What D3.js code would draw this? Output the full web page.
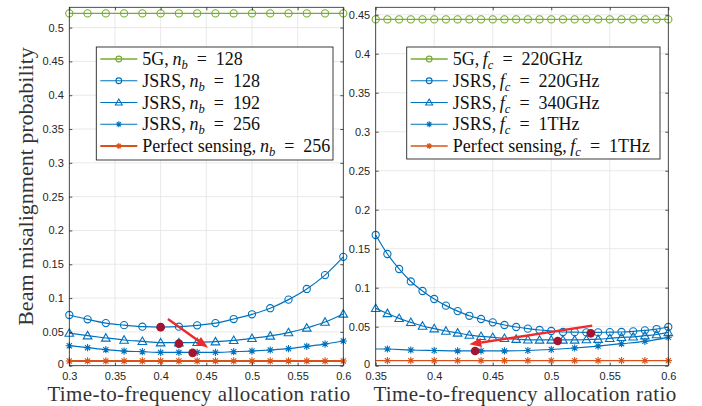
<!DOCTYPE html>
<html>
<head>
<meta charset="utf-8">
<script src="https://cdn.jsdelivr.net/npm/d3@7"></script>
<style>
  body { margin: 0; background: #fff; }
  text { white-space: pre; }
</style>
</head>
<body>
<div id="chart"></div>
<script>
// ---- left panel data (n_b sweep) ----
const leftX = [0.30, 0.32, 0.34, 0.36, 0.38, 0.40, 0.42, 0.44, 0.46, 0.48, 0.50, 0.52, 0.54, 0.56, 0.58, 0.60];
const left5G = [0.521, 0.521, 0.521, 0.521, 0.521, 0.521, 0.521, 0.521, 0.521, 0.521, 0.521, 0.521, 0.521, 0.521, 0.521, 0.521];
const leftJSRS128 = [0.075, 0.0686, 0.063, 0.060, 0.0577, 0.057, 0.0577, 0.0597, 0.063, 0.069, 0.076, 0.085, 0.0977, 0.1135, 0.134, 0.161];
const leftJSRS192 = [0.0483, 0.0444, 0.041, 0.038, 0.036, 0.034, 0.034, 0.0345, 0.0355, 0.0375, 0.0405, 0.044, 0.049, 0.0558, 0.0646, 0.0765];
const leftJSRS256 = [0.0296, 0.0267, 0.0237, 0.0217, 0.0207, 0.0197, 0.0197, 0.0197, 0.0197, 0.0207, 0.0217, 0.0232, 0.0252, 0.0286, 0.032, 0.0365];
const leftPerfect = [0.007, 0.007, 0.007, 0.007, 0.007, 0.007, 0.007, 0.007, 0.007, 0.007, 0.007, 0.007, 0.007, 0.007, 0.007, 0.007];
const leftOptX = [0.40, 0.42, 0.435];
const leftOptY = [0.057, 0.0326, 0.019];
const leftArrowX = [0.408, 0.452];
const leftArrowY = [0.069, 0.0267];
const leftXTicks = [0.3, 0.35, 0.4, 0.45, 0.5, 0.55, 0.6];
const leftYTicks = [0, 0.05, 0.1, 0.15, 0.2, 0.25, 0.3, 0.35, 0.4, 0.45, 0.5];

// ---- right panel data (f_c sweep) ----
const rightX = [0.35, 0.36, 0.37, 0.38, 0.39, 0.40, 0.41, 0.42, 0.43, 0.44, 0.45, 0.46, 0.47,
                0.48, 0.49, 0.50, 0.51, 0.52, 0.53, 0.54, 0.55, 0.56, 0.57, 0.58, 0.59, 0.60];
const right5G = [0.444, 0.444, 0.444, 0.444, 0.444, 0.444, 0.444, 0.444, 0.444, 0.444, 0.444, 0.444, 0.444,
                 0.444, 0.444, 0.444, 0.444, 0.444, 0.444, 0.444, 0.444, 0.444, 0.444, 0.444, 0.444, 0.444];
const rightJSRS220 = [0.1676, 0.1432, 0.124, 0.108, 0.0958, 0.0855, 0.077, 0.070, 0.064, 0.0599, 0.0556, 0.0522, 0.0496,
                      0.0475, 0.0458, 0.0445, 0.0432, 0.043, 0.0427, 0.0427, 0.043, 0.0432, 0.044, 0.0453, 0.047, 0.0496];
const rightJSRS340 = [0.0735, 0.067, 0.0607, 0.0556, 0.0509, 0.0475, 0.0445, 0.042, 0.0393, 0.0376, 0.0364, 0.0351, 0.034,
                      0.0332, 0.033, 0.033, 0.033, 0.033, 0.0335, 0.034, 0.0351, 0.0364, 0.037, 0.0385, 0.040, 0.0427];
const rightStarX = [0.35, 0.36, 0.38, 0.40, 0.42, 0.44, 0.46, 0.48, 0.50, 0.52, 0.54, 0.56, 0.58, 0.60];
const rightJSRS1T = [0.0214, 0.0214, 0.0201, 0.0195, 0.019, 0.019, 0.019, 0.0195, 0.0208, 0.0227, 0.0252, 0.0282, 0.0312, 0.0364];
const rightPerfect = [0.0065, 0.0065, 0.0065, 0.0065, 0.0065, 0.0065, 0.0065, 0.0065, 0.0065, 0.0065, 0.0065, 0.0065, 0.0065, 0.0065];
const rightOptX = [0.4349, 0.5055, 0.5338];
const rightOptY = [0.0188, 0.0317, 0.0415];
const rightArrowX = [0.535, 0.43];
const rightArrowY = [0.0513, 0.0274];
const rightXTicks = [0.35, 0.4, 0.45, 0.5, 0.55, 0.6];
const rightYTicks = [0, 0.05, 0.1, 0.15, 0.2, 0.25, 0.3, 0.35, 0.4, 0.45];

const GREEN = "#77AC30", BLUE = "#0072BD", ORANGE = "#D95319", DOT = "#A2142F", ARROW = "#EE2B2B";
const AXIS = "#262626";
const SERIF = "'Liberation Serif', 'Times New Roman', serif";
const SANS = "'Liberation Sans', Arial, sans-serif";
const EQ = "\u2002=\u2002";
const SEP = ",\u2009";

const svg = d3.select("#chart").append("svg")
  .attr("width", 702).attr("height", 406);

const fmt = d => String(+d.toFixed(2));

function marker(g, type, cx, cy, color, k = 1) {
  if (type === "o") {
    g.append("circle").attr("cx", cx).attr("cy", cy).attr("r", 3.6 * k)
      .attr("fill", "none").attr("stroke", color).attr("stroke-width", 1.1);
  } else if (type === "^") {
    g.append("path").attr("transform", `translate(${cx},${cy}) scale(${k})`)
      .attr("d", "M0,-4.3L4.3,3.2L-4.3,3.2Z")
      .attr("fill", "none").attr("stroke", color).attr("stroke-width", 1.1 / k);
  } else if (type === "*") {
    g.append("path").attr("transform", `translate(${cx},${cy}) scale(${k})`)
      .attr("d", "M-3.6,0H3.6M0,-3.6V3.6M-2.6,-2.6L2.6,2.6M-2.6,2.6L2.6,-2.6")
      .attr("fill", "none").attr("stroke", color).attr("stroke-width", 1.1 / k);
  }
}

function richText(g, x, y, parts, size) {
  const t = g.append("text").attr("x", x).attr("y", y)
    .attr("font-family", SERIF).attr("font-size", size).attr("fill", "#111");
  let shifted = false;
  parts.forEach(p => {
    const s = t.append("tspan").text(p.t);
    if (p.i) s.attr("font-style", "italic");
    if (p.sub) {
      s.attr("font-size", size * 0.7).attr("dy", 4);
      shifted = true;
    } else if (shifted) {
      s.attr("dy", -4);
      shifted = false;
    }
  });
  return t;
}

function drawPanel(cfg) {
  const x = d3.scaleLinear().domain(cfg.xDomain).range([cfg.left, cfg.right]);
  const y = d3.scaleLinear().domain(cfg.yDomain).range([cfg.bottom, cfg.top]);
  const g = svg.append("g");

  // background + grid
  g.append("rect").attr("x", cfg.left).attr("y", cfg.top)
    .attr("width", cfg.right - cfg.left).attr("height", cfg.bottom - cfg.top).attr("fill", "#fff");
  g.append("g").selectAll("line").data(cfg.xTicks).join("line")
    .attr("x1", d => x(d)).attr("x2", d => x(d)).attr("y1", cfg.top).attr("y2", cfg.bottom)
    .attr("stroke", "#e3e3e3").attr("stroke-width", 0.8);
  g.append("g").selectAll("line").data(cfg.yTicks).join("line")
    .attr("x1", cfg.left).attr("x2", cfg.right).attr("y1", d => y(d)).attr("y2", d => y(d))
    .attr("stroke", "#e3e3e3").attr("stroke-width", 0.8);

  // series
  const line = d3.line().x(d => x(d[0])).y(d => y(d[1])).curve(d3.curveMonotoneX);
  cfg.series.forEach(s => {
    const pts = s.xs.map((v, i) => [v, s.ys[i]]);
    g.append("path").datum(pts).attr("d", line)
      .attr("fill", "none").attr("stroke", s.color).attr("stroke-width", s.width);
    const mg = g.append("g");
    pts.forEach((p, i) => {
      if (s.skipFirst && i === 0) return;
      marker(mg, s.marker, x(p[0]), y(p[1]), s.color);
    });
  });

  // optimal points
  cfg.optX.forEach((v, i) => {
    g.append("circle").attr("cx", x(v)).attr("cy", y(cfg.optY[i])).attr("r", 4.3).attr("fill", DOT);
  });

  // arrow
  const x1 = x(cfg.arrowX[0]), y1 = y(cfg.arrowY[0]);
  const x2 = x(cfg.arrowX[1]), y2 = y(cfg.arrowY[1]);
  const ang = Math.atan2(y2 - y1, x2 - x1);
  const hl = 12, hw = 4.5;
  const bx = x2 - hl * Math.cos(ang), by = y2 - hl * Math.sin(ang);
  g.append("line").attr("x1", x1).attr("y1", y1).attr("x2", bx).attr("y2", by)
    .attr("stroke", ARROW).attr("stroke-width", 2.4);
  g.append("path")
    .attr("d", `M${x2},${y2}L${bx + hw * Math.sin(ang)},${by - hw * Math.cos(ang)}` +
               `L${bx - hw * Math.sin(ang)},${by + hw * Math.cos(ang)}Z`)
    .attr("fill", ARROW);

  // axes: labels and inward ticks on all four sides
  const tl = 3;
  g.append("g").attr("transform", `translate(0,${cfg.bottom})`)
    .call(d3.axisBottom(x).tickValues(cfg.xTicks).tickFormat(fmt).tickSizeInner(-tl).tickSizeOuter(0).tickPadding(6.5));
  g.append("g").attr("transform", `translate(0,${cfg.top})`)
    .call(d3.axisTop(x).tickValues(cfg.xTicks).tickFormat("").tickSizeInner(-tl).tickSizeOuter(0));
  const ay = g.append("g").attr("transform", `translate(${cfg.left},0)`)
    .call(d3.axisLeft(y).tickValues(cfg.yTicks).tickFormat(fmt).tickSizeInner(-tl).tickSizeOuter(0).tickPadding(5.5));
  g.append("g").attr("transform", `translate(${cfg.right},0)`)
    .call(d3.axisRight(y).tickValues(cfg.yTicks).tickFormat("").tickSizeInner(-tl).tickSizeOuter(0));
  g.selectAll(".domain").remove();
  g.selectAll(".tick line").attr("stroke", AXIS).attr("stroke-width", 0.8);
  g.selectAll(".tick text").attr("font-family", SANS).attr("font-size", 11).attr("fill", AXIS);
  // nudge the zero label up a hair so it clears the first x label
  ay.selectAll(".tick text").filter(d => d === 0).attr("dy", "0.14em");
  g.append("rect").attr("x", cfg.left).attr("y", cfg.top)
    .attr("width", cfg.right - cfg.left).attr("height", cfg.bottom - cfg.top)
    .attr("fill", "none").attr("stroke", AXIS).attr("stroke-width", 0.8);

  // x title
  g.append("text").attr("x", cfg.titleX).attr("y", 401).attr("text-anchor", "middle")
    .attr("font-family", SERIF).attr("font-size", 21).attr("letter-spacing", 0.4).attr("fill", "#333")
    .text("Time-to-frequency allocation ratio");

  // legend
  const L = cfg.legend;
  g.append("rect").attr("x", L.x).attr("y", L.y).attr("width", L.w).attr("height", L.h)
    .attr("fill", "#fff").attr("stroke", AXIS).attr("stroke-width", 0.9);
  cfg.series.forEach((s, i) => {
    const ry = L.y + 12 + i * 21.75;
    g.append("line").attr("x1", L.x + 4).attr("x2", L.x + 41).attr("y1", ry).attr("y2", ry)
      .attr("stroke", s.color).attr("stroke-width", s.width);
    marker(g, s.marker, L.x + 22.5, ry, s.color, 0.8);
    richText(g, L.x + 46, ry + 6, s.label, 18);
  });
  return g;
}

drawPanel({
  left: 69.3, right: 343.3, top: 7.3, bottom: 365.7,
  xDomain: [0.3, 0.6], yDomain: [0, 0.53],
  xTicks: leftXTicks, yTicks: leftYTicks,
  titleX: 199,
  series: [
    { xs: leftX, ys: left5G, color: GREEN, marker: "o", width: 1.3,
      label: [{ t: "5G" + SEP }, { t: "n", i: true }, { t: "b", i: true, sub: true }, { t: EQ + "128" }] },
    { xs: leftX, ys: leftJSRS128, color: BLUE, marker: "o", width: 1.2,
      label: [{ t: "JSRS" + SEP }, { t: "n", i: true }, { t: "b", i: true, sub: true }, { t: EQ + "128" }] },
    { xs: leftX, ys: leftJSRS192, color: BLUE, marker: "^", width: 1.2,
      label: [{ t: "JSRS" + SEP }, { t: "n", i: true }, { t: "b", i: true, sub: true }, { t: EQ + "192" }] },
    { xs: leftX, ys: leftJSRS256, color: BLUE, marker: "*", width: 1.2,
      label: [{ t: "JSRS" + SEP }, { t: "n", i: true }, { t: "b", i: true, sub: true }, { t: EQ + "256" }] },
    { xs: leftX, ys: leftPerfect, color: ORANGE, marker: "*", width: 2,
      label: [{ t: "Perfect sensing" + SEP }, { t: "n", i: true }, { t: "b", i: true, sub: true }, { t: EQ + "256" }] }
  ],
  optX: leftOptX, optY: leftOptY, arrowX: leftArrowX, arrowY: leftArrowY,
  legend: { x: 96.3, y: 47, w: 236.7, h: 113 }
});

drawPanel({
  left: 375.7, right: 668.3, top: 7.3, bottom: 365.7,
  xDomain: [0.35, 0.6], yDomain: [0, 0.4595],
  xTicks: rightXTicks, yTicks: rightYTicks,
  titleX: 525,
  series: [
    { xs: rightX, ys: right5G, color: GREEN, marker: "o", width: 1.3,
      label: [{ t: "5G" + SEP }, { t: "f", i: true }, { t: "c", i: true, sub: true }, { t: EQ + "220GHz" }] },
    { xs: rightX, ys: rightJSRS220, color: BLUE, marker: "o", width: 1.2,
      label: [{ t: "JSRS" + SEP }, { t: "f", i: true }, { t: "c", i: true, sub: true }, { t: EQ + "220GHz" }] },
    { xs: rightX, ys: rightJSRS340, color: BLUE, marker: "^", width: 1.2,
      label: [{ t: "JSRS" + SEP }, { t: "f", i: true }, { t: "c", i: true, sub: true }, { t: EQ + "340GHz" }] },
    { xs: rightStarX, ys: rightJSRS1T, color: BLUE, marker: "*", width: 1.2, skipFirst: true,
      label: [{ t: "JSRS" + SEP }, { t: "f", i: true }, { t: "c", i: true, sub: true }, { t: EQ + "1THz" }] },
    { xs: rightStarX, ys: rightPerfect, color: ORANGE, marker: "*", width: 1.3, skipFirst: true,
      label: [{ t: "Perfect sensing" + SEP }, { t: "f", i: true }, { t: "c", i: true, sub: true }, { t: EQ + "1THz" }] }
  ],
  optX: rightOptX, optY: rightOptY, arrowX: rightArrowX, arrowY: rightArrowY,
  legend: { x: 406.7, y: 47, w: 253.3, h: 112 }
});

// shared y title
svg.append("text").attr("transform", "translate(33,186.5) rotate(-90)")
  .attr("text-anchor", "middle").attr("font-family", SERIF).attr("font-size", 22).attr("fill", "#333")
  .text("Beam misalignment probability");
</script>
</body>
</html>
